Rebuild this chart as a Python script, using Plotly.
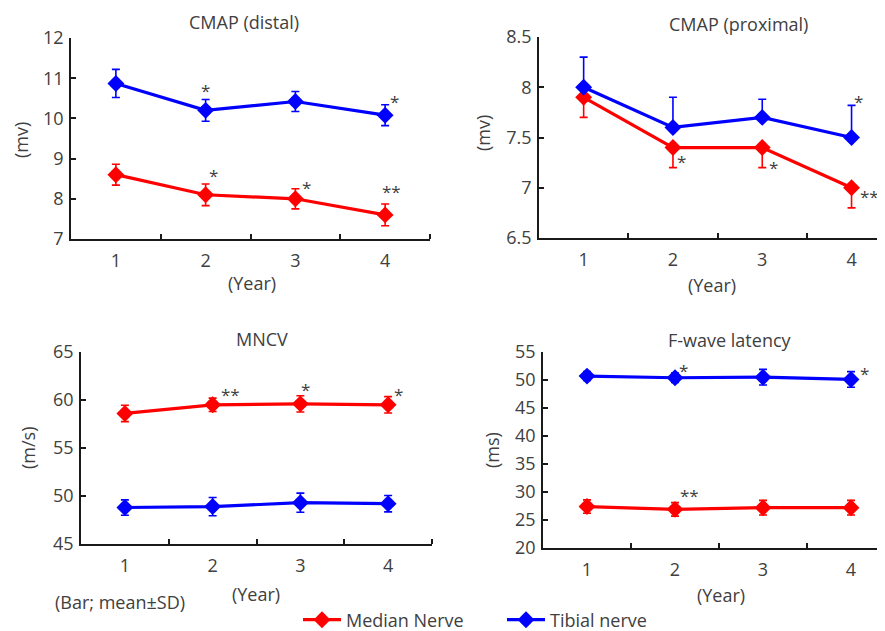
import plotly.graph_objects as go

years = [1, 2, 3, 4]
year_labels = ["1", "2", "3", "4"]

# CMAP (distal), mv
distal_median = [8.6, 8.1, 8.0, 7.6]
distal_median_sd = [0.26, 0.27, 0.25, 0.27]
distal_tibial = [10.87, 10.2, 10.42, 10.08]
distal_tibial_sd = [0.35, 0.27, 0.25, 0.26]

# CMAP (proximal), mv  (median: lower SD only; tibial: upper SD only)
prox_median = [7.9, 7.4, 7.4, 7.0]
prox_median_sd = [0.2, 0.2, 0.2, 0.2]
prox_tibial = [8.0, 7.6, 7.7, 7.5]
prox_tibial_sd = [0.3, 0.3, 0.18, 0.32]

# MNCV, m/s
mncv_median = [58.6, 59.5, 59.6, 59.5]
mncv_median_sd = [0.85, 0.7, 0.85, 0.85]
mncv_tibial = [48.8, 48.9, 49.3, 49.2]
mncv_tibial_sd = [0.8, 0.95, 1.0, 0.85]

# F-wave latency, ms
fwave_median = [27.4, 26.9, 27.2, 27.2]
fwave_median_sd = [1.2, 1.2, 1.3, 1.3]
fwave_tibial = [50.7, 50.4, 50.5, 50.1]
fwave_tibial_sd = [0.8, 0.85, 1.4, 1.4]

# significance marks: (x, y, text)
marks_distal = [(2.0, 10.8, "*"), (4.1, 10.53, "*"), (2.09, 8.67, "*"), (3.12, 8.37, "*"), (4.07, 8.29, "**")]
marks_prox = [(4.08, 7.9, "*"), (2.1, 7.3, "*"), (3.13, 7.24, "*"), (4.2, 6.95, "**")]
marks_mncv = [(2.2, 61.0, "**"), (3.06, 61.5, "*"), (4.12, 61.0, "*")]
marks_fwave = [(2.1, 52.4, "*"), (4.15, 51.9, "*"), (2.16, 30.05, "**")]

RED = "#ff0000"
BLUE = "#0000ff"
TXT = "#404040"
AX = "#1a1a1a"
FONT = "Open Sans"

fig = go.Figure()


def add_series(xa, ya, y, sd, color, name, show, up=True, down=True):
    err = dict(type="data", array=sd if up else [0] * len(sd),
               arrayminus=sd if down else [0] * len(sd), symmetric=False,
               color=color, thickness=1.6, width=4)
    fig.add_trace(go.Scatter(
        x=years, y=y, mode="lines+markers", name=name, showlegend=show,
        line=dict(color=color, width=3.2),
        marker=dict(symbol="diamond", size=13, color=color),
        error_y=err, xaxis=xa, yaxis=ya))


add_series("x", "y", distal_median, distal_median_sd, RED, "Median Nerve", True)
add_series("x", "y", distal_tibial, distal_tibial_sd, BLUE, "Tibial nerve", True)
add_series("x2", "y2", prox_median, prox_median_sd, RED, "Median Nerve", False, up=False)
add_series("x2", "y2", prox_tibial, prox_tibial_sd, BLUE, "Tibial nerve", False, down=False)
add_series("x3", "y3", mncv_median, mncv_median_sd, RED, "Median Nerve", False)
add_series("x3", "y3", mncv_tibial, mncv_tibial_sd, BLUE, "Tibial nerve", False)
add_series("x4", "y4", fwave_median, fwave_median_sd, RED, "Median Nerve", False)
add_series("x4", "y4", fwave_tibial, fwave_tibial_sd, BLUE, "Tibial nerve", False)

# the page body adds an 8px offset; the figure covers the rest of the window
OFF = 8
W, H = 885 - OFF, 631 - OFF


def px_x(p):
    return (p - OFF) / W


def px_y(p):
    return 1 - (p - OFF) / H


def xaxis(dom, rng, anchor):
    return dict(domain=dom, range=rng, anchor=anchor, tickvals=years, ticktext=year_labels,
                ticks="", showgrid=False, zeroline=False, showline=True,
                linecolor=AX, linewidth=1.5,
                tickfont=dict(family=FONT, size=18, color=TXT), ticklabelstandoff=5,
                minor=dict(tickvals=[1.5, 2.5, 3.5, 4.5], ticks="inside", ticklen=5,
                           tickwidth=1.5, tickcolor=AX))


def yaxis(dom, rng, dtick, anchor):
    return dict(domain=dom, range=rng, anchor=anchor, dtick=dtick, tick0=rng[0],
                ticks="inside", ticklen=5, tickwidth=1.5, tickcolor=AX,
                showgrid=False, zeroline=False, showline=True,
                linecolor=AX, linewidth=1.5, ticklabelstandoff=2,
                tickfont=dict(family=FONT, size=18, color=TXT))


fig.update_layout(
    width=W, height=H, margin=dict(l=0, r=0, t=0, b=0, autoexpand=False),
    paper_bgcolor="white", plot_bgcolor="white",
    xaxis=xaxis([px_x(71), px_x(430)], [0.5, 4.5], "y"),
    yaxis=yaxis([px_y(239), px_y(38)], [7, 12], 1, "x"),
    xaxis2=xaxis([px_x(539), 1.0], [0.5, 0.5 + (885 - 539) / 89.3], "y2"),
    yaxis2=yaxis([px_y(238), px_y(37)], [6.5, 8.5], 0.5, "x2"),
    xaxis3=xaxis([px_x(81), px_x(432)], [0.5, 4.5], "y3"),
    yaxis3=yaxis([px_y(544), px_y(352)], [45, 65], 5, "x3"),
    xaxis4=xaxis([px_x(543), 1.0], [0.5, 0.5 + (885 - 543) / 88.0], "y4"),
    yaxis4=yaxis([px_y(548), px_y(352)], [20, 55], 5, "x4"),
    legend=dict(orientation="h", x=px_x(298), y=px_y(620), yanchor="middle", xanchor="left",
                font=dict(family=FONT, size=18, color=TXT), entrywidth=151,
                itemwidth=38, bgcolor="rgba(0,0,0,0)"),
    showlegend=True,
)

ann = []


def txt(x, y, s, size=18, angle=0, yanchor="middle"):
    ann.append(dict(x=px_x(x), y=px_y(y), xref="paper", yref="paper", text=s, showarrow=False,
                    font=dict(family=FONT, size=size, color=TXT), textangle=angle,
                    xanchor="center", yanchor=yanchor))


txt(244, 8, "CMAP (distal)", yanchor="top")
txt(738, 24, "CMAP (proximal)")
txt(262, 339, "MNCV")
txt(730, 340, "F-wave latency")
txt(252, 283, "(Year)")
txt(712, 285, "(Year)")
txt(256, 594, "(Year)")
txt(721, 595, "(Year)")
txt(120, 602, "(Bar; mean±SD)")
txt(21, 140, "(mv)", angle=-90)
txt(483, 133, "(mv)", angle=-90)
txt(28, 448, "(m/s)", angle=-90)
txt(492, 450, "(ms)", angle=-90)

for marks, xr, yr in [(marks_distal, "x", "y"), (marks_prox, "x2", "y2"),
                      (marks_mncv, "x3", "y3"), (marks_fwave, "x4", "y4")]:
    for (mx, my, s) in marks:
        ann.append(dict(x=mx, y=my, xref=xr, yref=yr, text=s, showarrow=False, yshift=-4,
                        font=dict(family=FONT, size=17, color=TXT)))

fig.update_layout(annotations=ann)
fig.write_html("out.html")
